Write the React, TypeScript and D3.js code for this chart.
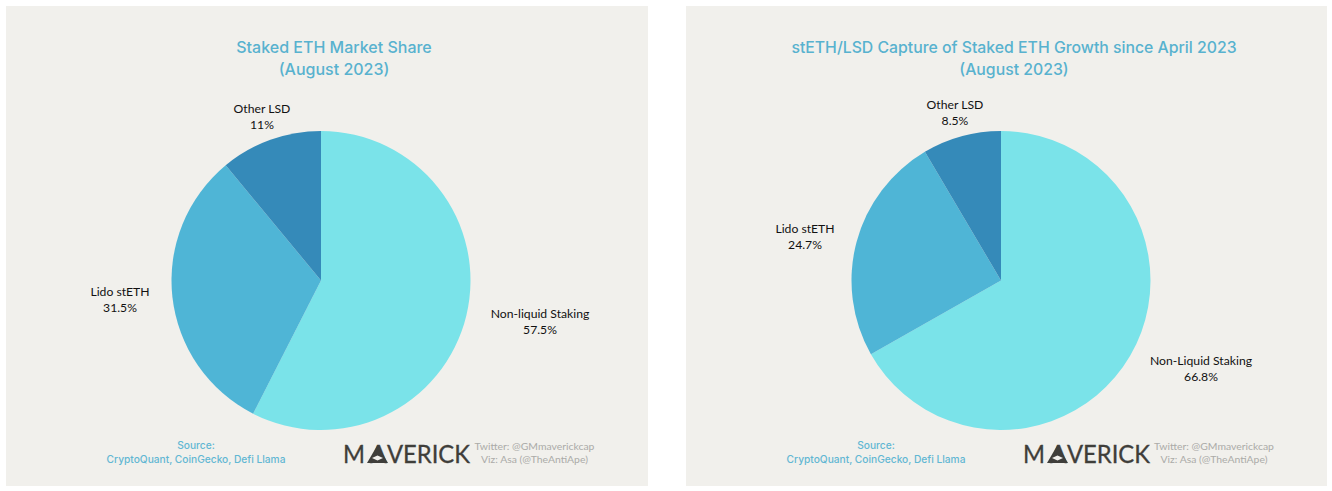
import React from "react";
import * as d3 from "d3";

const leftCategories = ["Non-liquid Staking", "Lido stETH", "Other LSD"];
const leftValues = [57.5, 31.5, 11];
const leftValueLabels = ["57.5%", "31.5%", "11%"];
const rightCategories = ["Non-Liquid Staking", "Lido stETH", "Other LSD"];
const rightValues = [66.8, 24.7, 8.5];
const rightValueLabels = ["66.8%", "24.7%", "8.5%"];
const sliceColors = ["#7AE3E9", "#4FB5D6", "#358AB9"];

const W = 1332, H = 491;
const TITLE = "#58B2CF";
const BG = "#F1F0EC";
const LOGO = "#3F3E3A";

type PanelProps = {
  x: number; w: number; cx: number; title: string[]; titleX: number; titleSize: number;
  cats: string[]; vals: number[]; vlabels: string[];
  labelPos: [number, number][]; srcX: number; logoX: number; creditX: number;
};

function Panel(p: PanelProps) {
  const cy = 280.5, r = 149.5;
  const pie = d3.pie<number>().sort(null).startAngle(0).endAngle(2 * Math.PI);
  const arc = d3.arc<d3.PieArcDatum<number>>().innerRadius(0).outerRadius(r);
  const label = { fontFamily: "Lato", fontSize: 12.2, fill: "#111", textAnchor: "middle" as const };
  const src = { fontFamily: "Inter", fontSize: 10.2, fontWeight: 500, fill: "#62B7D3", textAnchor: "middle" as const };
  const cred = { fontFamily: "Lato", fontSize: 10.4, fill: "#ABABA8", textAnchor: "middle" as const };
  const logo = { fontFamily: "Lato", fontSize: 25, fill: LOGO, stroke: LOGO, strokeWidth: 0.3 };
  const lx = p.logoX;
  return (
    <g>
      <rect x={p.x} y={6} width={p.w} height={480} fill={BG} />
      {p.title.map((t, i) => (
        <text key={i} x={p.titleX} y={53 + i * 21.5} textAnchor="middle" fontFamily="Inter" fontSize={p.titleSize} fontWeight={500} fill={TITLE}>{t}</text>
      ))}
      <g transform={`translate(${p.cx},${cy})`}>
        {pie(p.vals).map((d, i) => <path key={i} d={arc(d) as string} fill={sliceColors[i]} />)}
      </g>
      {p.cats.map((c, i) => (
        <g key={c}>
          <text x={p.labelPos[i][0]} y={p.labelPos[i][1] + 0.5} {...label}>{c}</text>
          <text x={p.labelPos[i][0]} y={p.labelPos[i][1] + 16.5} {...label}>{p.vlabels[i]}</text>
        </g>
      ))}
      <text x={p.srcX} y={449} {...src}>Source:</text>
      <text x={p.srcX} y={462.5} {...src}>CryptoQuant, CoinGecko, Defi Llama</text>
      <text x={lx} y={463} {...logo} textLength={22} lengthAdjust="spacingAndGlyphs">M</text>
      <text x={lx + 27} y={463} {...logo}>A</text>
      <text x={lx + 44} y={463} {...logo} textLength={83} lengthAdjust="spacingAndGlyphs">VERICK</text>
      <polygon points={`${lx + 34.5},445 ${lx + 24},463 ${lx + 45},463`} fill={LOGO} />
      <polygon points={`${lx + 29},458 ${lx + 34.5},455.5 ${lx + 40},458 ${lx + 34.5},460.5`} fill={BG} />
      <text x={p.creditX} y={450} {...cred}>Twitter: @GMmaverickcap</text>
      <text x={p.creditX} y={463} {...cred}>Viz: Asa (@TheAntiApe)</text>
    </g>
  );
}

export default function App() {
  return (
    <svg width={W} height={H} style={{ position: "absolute", left: 0, top: 0, background: "#fff" }}>
      <Panel x={6} w={642} cx={321} titleX={334} titleSize={16} title={["Staked ETH Market Share", "(August 2023)"]}
        cats={leftCategories} vals={leftValues} vlabels={leftValueLabels}
        labelPos={[[540, 317], [120, 295], [262, 112]]} srcX={196} logoX={343} creditX={534.5} />
      <Panel x={686} w={641} cx={1001} titleX={1014} titleSize={15.8} title={["stETH/LSD Capture of Staked ETH Growth since April 2023", "(August 2023)"]}
        cats={rightCategories} vals={rightValues} vlabels={rightValueLabels}
        labelPos={[[1201, 364], [805, 232], [955, 108]]} srcX={876} logoX={1023} creditX={1214} />
    </svg>
  );
}
